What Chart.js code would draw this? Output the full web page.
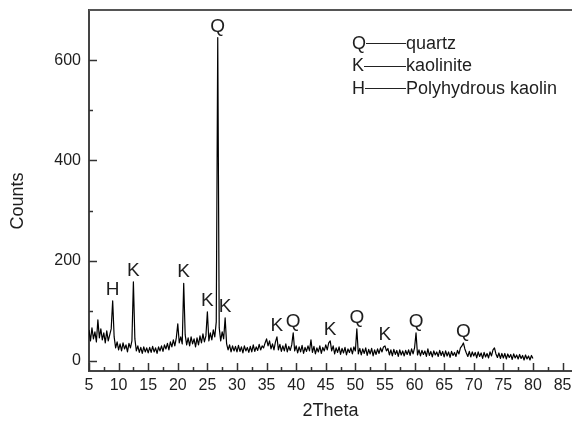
<!DOCTYPE html>
<html>
<head>
<meta charset="utf-8">
<script src="https://cdn.jsdelivr.net/npm/chart.js@4"></script>
<style>
  body { margin: 0; background: #fff; }
  canvas { display: block; }
</style>
</head>
<body>
<canvas id="xrd-chart" width="572" height="423"></canvas>
<script>
// 2Theta scan positions (degrees)
const twoTheta = [
  5, 5.25, 5.5, 5.75, 6, 6.25, 6.5, 6.75, 7, 7.25, 7.5, 7.75, 8, 8.25, 8.5, 8.75, 9, 9.25, 9.5, 9.75,
  10, 10.25, 10.5, 10.75, 11, 11.25, 11.5, 11.75, 12, 12.25, 12.5, 12.75, 13, 13.25, 13.5, 13.75, 14, 14.25, 14.5, 14.75,
  15, 15.25, 15.5, 15.75, 16, 16.25, 16.5, 16.75, 17, 17.25, 17.5, 17.75, 18, 18.25, 18.5, 18.75, 19, 19.25, 19.5, 19.75,
  20, 20.25, 20.5, 20.75, 21, 21.25, 21.5, 21.75, 22, 22.25, 22.5, 22.75, 23, 23.25, 23.5, 23.75, 24, 24.25, 24.5, 24.75,
  25, 25.25, 25.5, 25.75, 26, 26.25, 26.5, 26.75, 27, 27.25, 27.5, 27.75, 28, 28.25, 28.5, 28.75, 29, 29.25, 29.5, 29.75,
  30, 30.25, 30.5, 30.75, 31, 31.25, 31.5, 31.75, 32, 32.25, 32.5, 32.75, 33, 33.25, 33.5, 33.75, 34, 34.25, 34.5, 34.75,
  35, 35.25, 35.5, 35.75, 36, 36.25, 36.5, 36.75, 37, 37.25, 37.5, 37.75, 38, 38.25, 38.5, 38.75, 39, 39.25, 39.5, 39.75,
  40, 40.25, 40.5, 40.75, 41, 41.25, 41.5, 41.75, 42, 42.25, 42.5, 42.75, 43, 43.25, 43.5, 43.75, 44, 44.25, 44.5, 44.75,
  45, 45.25, 45.5, 45.75, 46, 46.25, 46.5, 46.75, 47, 47.25, 47.5, 47.75, 48, 48.25, 48.5, 48.75, 49, 49.25, 49.5, 49.75,
  50, 50.25, 50.5, 50.75, 51, 51.25, 51.5, 51.75, 52, 52.25, 52.5, 52.75, 53, 53.25, 53.5, 53.75, 54, 54.25, 54.5, 54.75,
  55, 55.25, 55.5, 55.75, 56, 56.25, 56.5, 56.75, 57, 57.25, 57.5, 57.75, 58, 58.25, 58.5, 58.75, 59, 59.25, 59.5, 59.75,
  60, 60.25, 60.5, 60.75, 61, 61.25, 61.5, 61.75, 62, 62.25, 62.5, 62.75, 63, 63.25, 63.5, 63.75, 64, 64.25, 64.5, 64.75,
  65, 65.25, 65.5, 65.75, 66, 66.25, 66.5, 66.75, 67, 67.25, 67.5, 67.75, 68, 68.25, 68.5, 68.75, 69, 69.25, 69.5, 69.75,
  70, 70.25, 70.5, 70.75, 71, 71.25, 71.5, 71.75, 72, 72.25, 72.5, 72.75, 73, 73.25, 73.5, 73.75, 74, 74.25, 74.5, 74.75,
  75, 75.25, 75.5, 75.75, 76, 76.25, 76.5, 76.75, 77, 77.25, 77.5, 77.75, 78, 78.25, 78.5, 78.75, 79, 79.25, 79.5, 79.75,
  80
];

// Counts, one row per 5 degrees
const counts = [
  62, 40, 66, 44, 58, 38, 82, 46, 64, 42, 56, 36, 60, 40, 52, 64, 120, 48, 26, 38,
  22, 34, 20, 36, 24, 32, 18, 35, 26, 40, 158, 44, 20, 30, 17, 27, 15, 28, 18, 26,
  16, 27, 17, 29, 18, 26, 15, 28, 20, 30, 19, 32, 24, 35, 22, 38, 28, 42, 30, 46,
  74, 36, 48, 34, 155, 52, 32, 46, 30, 48, 34, 44, 28, 46, 32, 50, 36, 54, 38, 50,
  98, 40, 56, 42, 62, 48, 78, 645, 66, 40, 58, 44, 86, 34, 22, 32, 18, 30, 20, 29,
  18, 31, 19, 28, 16, 30, 20, 27, 17, 29, 18, 32, 19, 28, 21, 33, 22, 30, 26, 36,
  44, 30, 40, 24, 34, 22, 38, 48, 22, 33, 19, 30, 20, 34, 18, 29, 21, 32, 56, 20,
  30, 16, 28, 18, 31, 15, 27, 19, 30, 20, 42, 17, 29, 14, 26, 18, 30, 15, 27, 20,
  32, 22, 36, 40, 20, 30, 14, 26, 17, 28, 13, 25, 16, 27, 12, 24, 17, 26, 14, 28,
  20, 64, 14, 25, 12, 24, 15, 26, 11, 23, 14, 25, 10, 22, 13, 24, 15, 26, 18, 28,
  30, 20, 25, 12, 22, 10, 23, 13, 21, 9, 22, 12, 20, 10, 21, 13, 22, 11, 24, 14,
  26, 56, 12, 22, 10, 21, 13, 20, 9, 24, 11, 19, 8, 20, 12, 18, 9, 21, 11, 19,
  8, 20, 10, 18, 7, 19, 11, 17, 9, 21, 14, 26, 30, 36, 24, 16, 9, 19, 8, 18,
  10, 17, 6, 18, 9, 16, 5, 17, 8, 15, 6, 18, 10, 22, 26, 14, 7, 16, 5, 15,
  6, 15, 4, 14, 7, 13, 3, 14, 6, 12, 4, 13, 5, 11, 2, 12, 4, 10, 2, 11,
  5
];

// Peak identification letters and where they sit
const peakLetters = ["H", "K", "K", "K", "Q", "K", "K", "Q", "K", "Q", "K", "Q", "Q"];
const peakAngles = [9, 12.5, 21, 25, 26.75, 28, 36.75, 39.5, 45.75, 50.25, 55, 60.25, 68.25];

// Phase key
const legendLetters = ["Q", "K", "H"];
const legendNames = ["quartz", "kaolinite", "Polyhydrous kaolin"];

const FONT = "'Liberation Sans', Arial, sans-serif";
const TEXT = "#1e1e1e";

const points = twoTheta.map((t, i) => ({ x: t, y: counts[i] }));

/* ticks inside the frame, peak letters, key and axis titles */
const decorations = {
  id: "decorations",
  afterDraw(chart) {
    const { ctx, chartArea, scales: { x, y } } = chart;
    const seg = (x1, y1, x2, y2) => {
      ctx.beginPath();
      ctx.moveTo(x1, y1);
      ctx.lineTo(x2, y2);
      ctx.stroke();
    };
    ctx.save();

    // top frame line
    ctx.strokeStyle = "#555";
    ctx.lineWidth = 2;
    seg(chartArea.left, chartArea.top, chartArea.right, chartArea.top);

    // inward major / minor ticks
    ctx.strokeStyle = "#333";
    ctx.lineWidth = 1.5;
    x.ticks.forEach((t, i) => {
      const px = Math.round(x.getPixelForValue(t.value)) + 0.5;
      seg(px, chartArea.bottom, px, chartArea.bottom - 8);
      if (i < x.ticks.length - 1) {
        const mx = Math.round(x.getPixelForValue((t.value + x.ticks[i + 1].value) / 2)) + 0.5;
        seg(mx, chartArea.bottom, mx, chartArea.bottom - 4);
      }
    });
    y.ticks.forEach((t, i) => {
      const py = Math.round(y.getPixelForValue(t.value)) + 0.5;
      seg(chartArea.left, py, chartArea.left + 8, py);
      const next = i < y.ticks.length - 1 ? y.ticks[i + 1].value : t.value + 200;
      const my = Math.round(y.getPixelForValue((t.value + next) / 2)) + 0.5;
      if (my > chartArea.top + 2) seg(chartArea.left, my, chartArea.left + 4, my);
    });

    // peak letters
    ctx.fillStyle = TEXT;
    ctx.font = "19px " + FONT;
    ctx.textAlign = "center";
    ctx.textBaseline = "alphabetic";
    peakLetters.forEach((letter, i) => {
      const idx = twoTheta.indexOf(peakAngles[i]);
      const px = x.getPixelForValue(peakAngles[i]);
      const py = y.getPixelForValue(counts[idx]);
      ctx.fillText(letter, px, py - 6);
    });

    // key
    ctx.font = "18px " + FONT;
    ctx.textAlign = "left";
    ctx.textBaseline = "middle";
    ctx.strokeStyle = "#222";
    ctx.lineWidth = 1;
    legendLetters.forEach((letter, i) => {
      const ly = 44 + i * 22.5;
      ctx.fillText(letter, 352, ly);
      const w = ctx.measureText(letter).width;
      seg(352 + w, Math.round(ly) - 0.5, 406, Math.round(ly) - 0.5);
      ctx.fillText(legendNames[i], 406, ly);
    });

    // axis titles
    ctx.textAlign = "center";
    ctx.fillText("2Theta", (chartArea.left + chartArea.right) / 2, 411);
    ctx.translate(18, 201);
    ctx.rotate(-Math.PI / 2);
    ctx.fillText("Counts", 0, 0);
    ctx.restore();
  },
};

new Chart(document.getElementById("xrd-chart"), {
  type: "line",
  data: {
    datasets: [
      {
        data: points,
        borderColor: "#000",
        borderWidth: 1.2,
        borderJoinStyle: "round",
        pointRadius: 0,
        tension: 0,
      },
    ],
  },
  options: {
    responsive: false,
    animation: false,
    layout: { padding: { top: 10, right: 0, bottom: 0, left: 0 } },
    plugins: {
      legend: { display: false },
      tooltip: { enabled: false },
    },
    scales: {
      x: {
        type: "linear",
        min: 5,
        max: 86.6,
        grid: { display: false, drawTicks: false },
        border: { display: true, color: "#444", width: 2 },
        ticks: {
          stepSize: 5,
          includeBounds: false,
          padding: 5,
          color: TEXT,
          font: { family: FONT, size: 16 },
          maxRotation: 0,
          autoSkip: false,
        },
        afterFit(scale) {
          scale.height = 52;
          scale.paddingLeft = 0;
          scale.paddingRight = 0;
        },
      },
      y: {
        min: -20,
        max: 700,
        grid: { display: false, drawTicks: false },
        border: { display: true, color: "#444", width: 2 },
        ticks: {
          stepSize: 200,
          includeBounds: false,
          padding: 8,
          color: TEXT,
          font: { family: FONT, size: 16 },
        },
        afterFit(scale) {
          scale.width = 89;
          scale.paddingTop = 0;
          scale.paddingBottom = 0;
        },
      },
    },
  },
  plugins: [decorations],
});
</script>
</body>
</html>
